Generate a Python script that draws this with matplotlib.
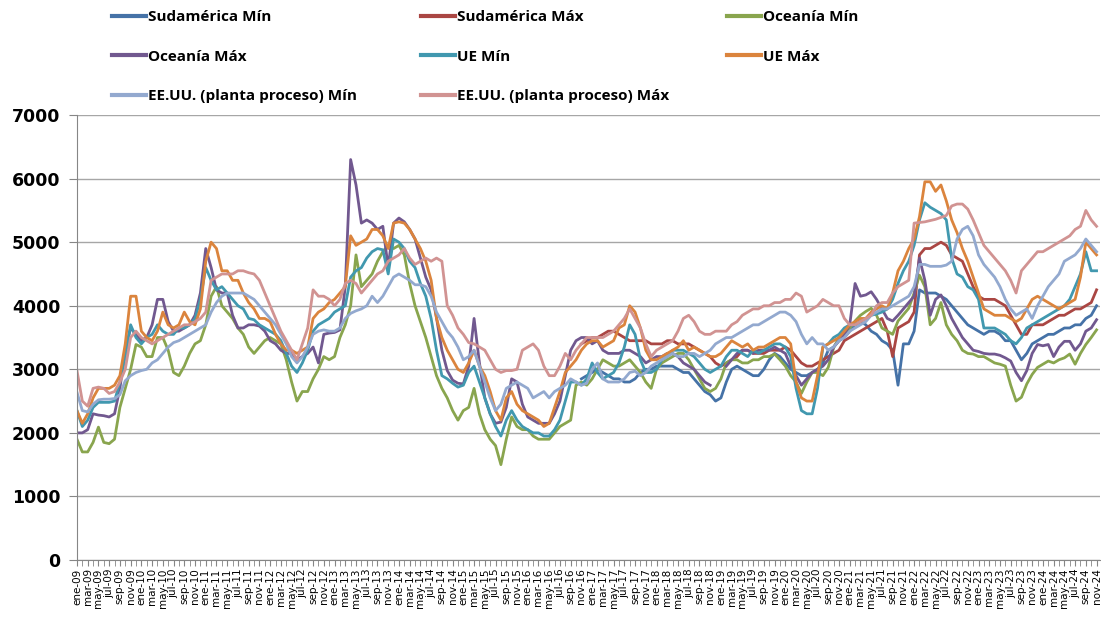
import numpy as np
import matplotlib
matplotlib.use('Agg')
import matplotlib.pyplot as plt

nan = np.nan

# categorias mensuales ene-09 .. nov-24
meses = ['ene', 'feb', 'mar', 'abr', 'may', 'jun', 'jul', 'ago', 'sep', 'oct', 'nov', 'dic']
fechas = ['%s-%02d' % (m, a) for a in range(9, 25) for m in meses][:191]

# valores (USD/t)
sudamerica_min = [nan] * 94 + [
    2850, 2900,                                                            # 2016
    2950, 3000, 2950, 2900, 2850, 2850, 2800, 2800, 2850, 2950, 3000, 3000,  # 2017
    3050, 3050, 3050, 3050, 3000, 2950, 2950, 2850, 2750, 2650, 2600, 2500,  # 2018
    2550, 2800, 3000, 3050, 3000, 2950, 2900, 2900, 3000, 3150, 3250, 3200,  # 2019
    3100, 3000, 2950, 2900, 2900, 2950, 3000, 3100, 3300, 3350, 3450, 3500,  # 2020
    3600, 3700, 3750, 3700, 3600, 3550, 3450, 3400, 3300, 2750, 3400, 3400,  # 2021
    3600, 4250, 4200, 4200, 4200, 4150, 4100, 4000, 3900, 3800, 3700, 3650,  # 2022
    3600, 3550, 3600, 3600, 3550, 3450, 3450, 3300, 3150, 3250, 3400, 3450,  # 2023
    3500, 3550, 3550, 3600, 3650, 3650, 3700, 3700, 3800, 3850, 4000,        # 2024
]

sudamerica_max = [nan] * 94 + [
    3400, 3450,
    3500, 3500, 3550, 3600, 3600, 3550, 3500, 3450, 3450, 3450, 3450, 3400,
    3400, 3400, 3450, 3450, 3400, 3400, 3400, 3350, 3300, 3250, 3200, 3100,
    3050, 3100, 3150, 3200, 3300, 3300, 3250, 3250, 3250, 3300, 3300, 3300,
    3350, 3300, 3200, 3100, 3050, 3050, 3100, 3150, 3200, 3250, 3300, 3450,
    3500, 3550, 3600, 3650, 3700, 3750, 3800, 3600, 3200, 3650, 3700, 3750,
    3900, 4800, 4900, 4900, 4950, 5000, 4950, 4800, 4750, 4700, 4500, 4300,
    4150, 4100, 4100, 4100, 4050, 4000, 3850, 3700, 3550, 3550, 3700, 3700,
    3700, 3750, 3800, 3850, 3850, 3900, 3950, 3950, 4000, 4050, 4250,
]

oceania_min = [
    1900, 1700, 1700, 1850, 2090, 1850, 1830, 1900, 2400, 2700, 3000, 3390,  # 2009
    3350, 3200, 3200, 3500, 3500, 3300, 2950, 2900, 3050, 3250, 3400, 3450,  # 2010
    3700, 4150, 4300, 4000, 3900, 3800, 3650, 3550, 3350, 3250, 3350, 3450,  # 2011
    3500, 3450, 3400, 3150, 2800, 2500, 2650, 2650, 2850, 3000, 3200, 3150,  # 2012
    3200, 3500, 3700, 4000, 4800, 4300, 4400, 4500, 4700, 4850, 4950, 4900,  # 2013
    4950, 4800, 4350, 4000, 3750, 3500, 3200, 2900, 2700, 2550, 2350, 2200,  # 2014
    2350, 2400, 2700, 2300, 2050, 1900, 1800, 1500, 1900, 2250, 2100, 2050,  # 2015
    2050, 1950, 1900, 1900, 1900, 2000, 2100, 2150, 2200, 2750, 2800, 2750,  # 2016
    2850, 3000, 3150, 3100, 3050, 3050, 3100, 3150, 3050, 2950, 2800, 2700,  # 2017
    3000, 3100, 3150, 3200, 3250, 3250, 3150, 3000, 2850, 2700, 2650, 2700,  # 2018
    2850, 3100, 3150, 3150, 3100, 3100, 3150, 3150, 3200, 3200, 3240, 3150,  # 2019
    3050, 2900, 2800, 2620, 2800, 2950, 2950, 2900, 3030, 3340, 3500, 3550,  # 2020
    3650, 3760, 3850, 3910, 3960, 3850, 3650, 3600, 3550, 3760, 3860, 3960,  # 2021
    4200, 4480, 4300, 3700, 3800, 4050, 3700, 3550, 3450, 3300, 3250, 3240,  # 2022
    3200, 3200, 3150, 3100, 3080, 3050, 2750, 2500, 2560, 2770, 2920, 3030,  # 2023
    3080, 3130, 3100, 3150, 3180, 3240, 3080, 3250, 3390, 3500, 3620,        # 2024
]

oceania_max = [
    2000, 2000, 2050, 2300, 2280, 2270, 2250, 2300, 2700, 3300, 3650, 3550,
    3450, 3500, 3700, 4100, 4100, 3750, 3600, 3600, 3650, 3700, 3850, 4200,
    4900, 4600, 4250, 4200, 4200, 3850, 3650, 3650, 3700, 3700, 3680, 3600,
    3450, 3400, 3300, 3250, 3250, 3150, 3200, 3250, 3350, 3100, 3550, 3570,
    3580, 3620, 4300, 6300, 5900, 5300, 5350, 5300, 5200, 5250, 4600, 5300,
    5380, 5320, 5200, 5050, 4750, 4450, 4250, 3810, 3300, 2980, 2830, 2780,
    2770, 3050, 3800, 3100, 2550, 2300, 2150, 2170, 2400, 2850, 2800, 2450,
    2250, 2200, 2150, 2150, 2150, 2300, 2500, 2900, 3300, 3450, 3500, 3500,
    3400, 3450, 3300, 3250, 3250, 3250, 3300, 3300, 3250, 3200, 3100, 3150,
    3200, 3200, 3250, 3250, 3200, 3100, 3050, 3000, 2900, 2800, 2750, nan,
    nan, 3050, 3150, 3250, 3300, 3300, 3250, 3300, 3300, 3300, 3350, 3300,
    3250, 3050, 2900, 2750, 2850, 2950, 3000, 3050, 3150, 3350, 3450, 3550,
    3700, 4350, 4150, 4170, 4220, 4100, 3950, 3800, 3760, 3850, 3950, 4050,
    4150, 4750, 4400, 3850, 4100, 4170, 4000, 3800, 3650, 3500, 3400, 3300,
    3280, 3250, 3240, 3240, 3220, 3180, 3130, 2950, 2820, 2980, 3250, 3390,
    3370, 3390, 3200, 3350, 3440, 3440, 3300, 3400, 3600, 3650, 3780,
]

ue_min = [
    2350, 2100, 2200, 2400, 2480, 2480, 2480, 2500, 2800, 3200, 3700, 3500,
    3400, 3500, 3550, 3700, 3600, 3550, 3550, 3650, 3650, 3700, 3800, 4100,
    4600, 4400, 4250, 4300, 4200, 4100, 4000, 3950, 3800, 3780, 3700, 3650,
    3600, 3550, 3450, 3250, 3050, 2950, 3100, 3300, 3600, 3700, 3750, 3800,
    3900, 3950, 4000, 4450, 4550, 4600, 4750, 4850, 4900, 4880, 4500, 5050,
    5000, 4900, 4700, 4600, 4350, 4150, 3800, 3300, 2900, 2850, 2780, 2720,
    2750, 2950, 3050, 2800, 2550, 2300, 2100, 1950, 2200, 2350, 2200, 2100,
    2050, 2000, 2000, 1950, 1950, 2050, 2200, 2500, 2800, 2800, 2750, 2850,
    3100, 2950, 2850, 2900, 2950, 3100, 3350, 3700, 3550, 3150, 2950, 2950,
    3000, 3150, 3200, 3300, 3300, 3300, 3250, 3200, 3100, 3000, 2950, 3000,
    3050, 3200, 3300, 3300, 3250, 3200, 3300, 3250, 3300, 3350, 3400, 3400,
    3350, 3200, 2700, 2350, 2300, 2300, 2700, 3350, 3400, 3500, 3550, 3650,
    3700, 3700, 3750, 3800, 3850, 3870, 3900, 3950, 4100, 4350, 4550, 4700,
    4950, 5350, 5620, 5550, 5500, 5450, 5350, 4750, 4500, 4450, 4300, 4250,
    4100, 3650, 3650, 3650, 3600, 3550, 3450, 3400, 3500, 3650, 3700, 3750,
    3800, 3850, 3900, 3950, 4000, 4100, 4300, 4500, 4850, 4550, 4550,
]

ue_max = [
    2350, 2150, 2300, 2550, 2700, 2700, 2700, 2750, 2900, 3400, 4150, 4150,
    3600, 3500, 3450, 3600, 3900, 3700, 3650, 3700, 3900, 3750, 3700, 3950,
    4700, 5000, 4900, 4550, 4550, 4400, 4400, 4200, 4050, 3950, 3800, 3800,
    3750, 3550, 3400, 3300, 3300, 3250, 3300, 3350, 3800, 3900, 3950, 4050,
    4100, 4200, 4300, 5100, 4950, 5000, 5050, 5200, 5200, 5100, 4900, 5300,
    5320, 5300, 5200, 5050, 4900, 4700, 4400, 3800, 3500, 3300, 3150, 3000,
    2950, 3100, 3300, 3050, 2900, 2650, 2350, 2200, 2550, 2650, 2450, 2350,
    2300, 2250, 2200, 2100, 2150, 2400, 2650, 2950, 3050, 3150, 3300, 3400,
    3450, 3450, 3350, 3400, 3450, 3650, 3700, 4000, 3900, 3650, 3300, 3150,
    3150, 3200, 3250, 3300, 3350, 3450, 3300, 3350, 3300, 3250, 3200, 3200,
    3250, 3350, 3450, 3400, 3350, 3400, 3300, 3350, 3350, 3400, 3450, 3500,
    3500, 3400, 2800, 2550, 2500, 2500, 2900, 3350, 3400, 3450, 3500, 3600,
    3700, 3750, 3800, 3800, 3900, 3950, 4000, 3950, 4200, 4550, 4700, 4900,
    5050, 5400, 5950, 5950, 5800, 5900, 5650, 5350, 5150, 4900, 4700, 4450,
    4200, 3950, 3900, 3850, 3850, 3850, 3800, 3750, 3800, 3950, 4100, 4150,
    4100, 4050, 4000, 3950, 4000, 4050, 4100, 4450, 5000, 4900, 4800,
]

eeuu_min = [
    2640, 2350, 2330, 2450, 2520, 2530, 2530, 2540, 2600, 2820, 2900, 2950,
    2980, 3000, 3100, 3150, 3250, 3350, 3420, 3450, 3500, 3550, 3600, 3650,
    3700, 3900, 4050, 4150, 4200, 4200, 4200, 4200, 4150, 4100, 4000, 3900,
    3800, 3700, 3550, 3400, 3200, 3100, 3200, 3350, 3550, 3600, 3620, 3600,
    3600, 3650, 3800, 3880, 3920, 3950, 4000, 4150, 4050, 4150, 4300, 4450,
    4500, 4450, 4400, 4330, 4330, 4300, 4150, 3900, 3750, 3600, 3500, 3350,
    3150, 3200, 3300, 3050, 2800, 2550, 2350, 2450, 2700, 2750, 2800, 2750,
    2700, 2550, 2600, 2650, 2550, 2650, 2700, 2750, 2850, 2800, 2750, 2780,
    3000, 3100, 2850, 2800, 2800, 2800, 2850, 2950, 2970, 2900, 2950, 3050,
    3100, 3150, 3200, 3250, 3200, 3200, 3250, 3250, 3200, 3250, 3300, 3400,
    3450, 3500, 3500, 3550, 3600, 3650, 3700, 3700, 3750, 3800, 3850, 3900,
    3900, 3850, 3750, 3550, 3400, 3500, 3400, 3400, 3300, 3350, 3450, 3500,
    3600, 3650, 3700, 3750, 3850, 3900, 3950, 3950, 4000, 4050, 4100, 4150,
    4300, 4650, 4650, 4620, 4620, 4620, 4640, 4700, 5050, 5200, 5250, 5100,
    4800, 4650, 4550, 4450, 4300, 4100, 3950, 3850, 3900, 3950, 3800, 4000,
    4150, 4300, 4400, 4500, 4700, 4750, 4800, 4900, 5050, 4950, 4850,
]

eeuu_max = [
    2980, 2500, 2420, 2700, 2720, 2700, 2620, 2650, 2800, 3000, 3500, 3600,
    3500, 3450, 3400, 3450, 3500, 3550, 3600, 3650, 3700, 3700, 3750, 3800,
    3900, 4400, 4450, 4500, 4500, 4500, 4550, 4550, 4520, 4500, 4400, 4200,
    4000, 3800, 3600, 3450, 3300, 3150, 3400, 3650, 4250, 4150, 4150, 4100,
    4000, 4100, 4350, 4400, 4350, 4200, 4300, 4400, 4500, 4550, 4700, 4750,
    4800, 4900, 4750, 4650, 4700, 4750, 4700, 4750, 4700, 4000, 3850, 3650,
    3550, 3420, 3400, 3350, 3300, 3150, 3000, 2950, 2980, 2980, 3000, 3300,
    3350, 3400, 3300, 3050, 2900, 2900, 3050, 3250, 3150, 3300, 3400, 3500,
    3500, 3500, 3500, 3550, 3600, 3700, 3800, 3950, 3800, 3650, 3400, 3200,
    3300, 3350, 3400, 3450, 3600, 3800, 3850, 3750, 3600, 3550, 3550, 3600,
    3600, 3600, 3700, 3750, 3850, 3900, 3950, 3950, 4000, 4000, 4050, 4050,
    4100, 4100, 4200, 4150, 3900, 3950, 4000, 4100, 4050, 4000, 4000, 3800,
    3700, 3700, 3750, 3800, 3850, 4000, 4050, 4050, 4200, 4300, 4350, 4400,
    5300, 5310, 5320, 5340, 5360, 5390, 5420, 5570, 5600, 5600, 5520, 5350,
    5150, 4950, 4850, 4750, 4650, 4550, 4400, 4200, 4550, 4650, 4750, 4850,
    4850, 4900, 4950, 5000, 5050, 5100, 5200, 5250, 5500, 5350, 5250,
]

series = [
    ('Sudamérica Mín', sudamerica_min, '#4572A7'),
    ('Sudamérica Máx', sudamerica_max, '#AA4643'),
    ('Oceanía Mín', oceania_min, '#89A54E'),
    ('Oceanía Máx', oceania_max, '#71588F'),
    ('UE Mín', ue_min, '#4198AF'),
    ('UE Máx', ue_max, '#DB843D'),
    ('EE.UU. (planta proceso) Mín', eeuu_min, '#93A9CF'),
    ('EE.UU. (planta proceso) Máx', eeuu_max, '#D19392'),
]

fig = plt.figure(figsize=(11.01, 6.24), dpi=100)
ax = fig.add_axes([0.0699, 0.1026, 0.929, 0.713])

x = np.arange(len(fechas))
lines = []
for nombre, vals, col in series:
    ln, = ax.plot(x, vals, color=col, lw=2.0, label=nombre, solid_joinstyle='round')
    lines.append(ln)

ax.set_xlim(0, len(fechas) - 0.4)
ax.set_ylim(0, 7000)
ax.set_yticks(range(0, 7001, 1000))
ax.set_yticklabels([str(v) for v in range(0, 7001, 1000)], fontsize=12.5, fontweight='bold')
ax.yaxis.grid(True, color='#A6A6A6', lw=1)
ax.set_axisbelow(True)

ax.set_xticks(x[::2])
ax.set_xticklabels(fechas[::2], rotation=90, fontsize=7.5)
ax.set_xticks(x[1::2], minor=True)
ax.tick_params(axis='x', which='both', length=4, color='#868686', pad=2)
ax.tick_params(axis='y', length=6, color='#868686', pad=6)

for s in ['top', 'right']:
    ax.spines[s].set_visible(False)
for s in ['left', 'bottom']:
    ax.spines[s].set_color('#868686')

# leyenda: tres columnas, cada una como leyenda propia para fijar su posicion
columnas = [[0, 3, 6], [1, 4, 7], [2, 5]]
x_col = [0.1017, 0.3824, 0.6603]
for xc, idx in zip(x_col, columnas):
    leg = fig.legend([lines[i] for i in idx], [series[i][0] for i in idx],
                     loc='upper left', bbox_to_anchor=(xc, 0.984), ncol=1, frameon=False,
                     prop={'family': 'Open Sans', 'weight': 'bold', 'size': 11},
                     handlelength=2.2, handletextpad=0.13,
                     labelspacing=1.68, borderpad=0, borderaxespad=0)
    for h in leg.legend_handles:
        h.set_linewidth(3)

fig.savefig('out.png', dpi=100)
